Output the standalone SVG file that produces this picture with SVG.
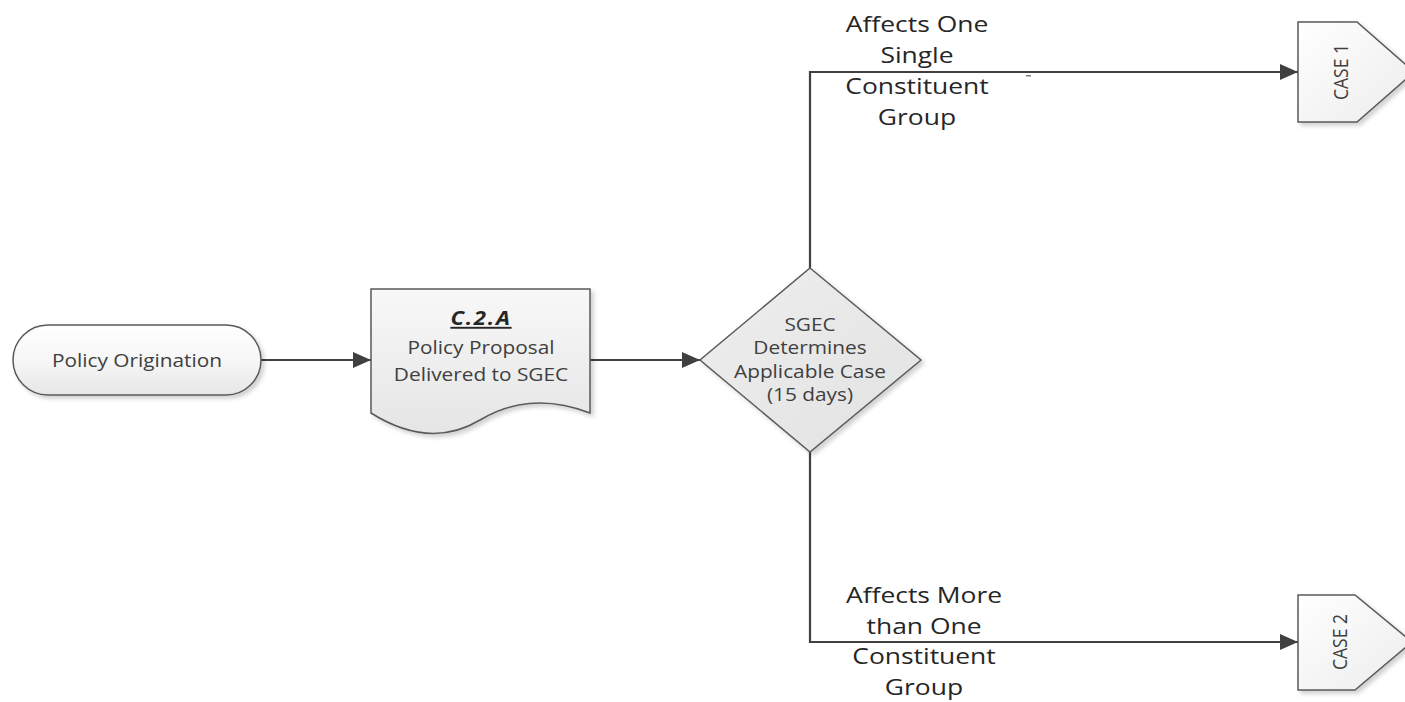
<svg xmlns="http://www.w3.org/2000/svg" width="1405" height="702" viewBox="0 0 1405 702">
  <style>
    .shape { stroke: #5a5a5a; stroke-width: 1.5; }
    .conn { fill: none; stroke: #404040; stroke-width: 2.2; }
    .body { font-family: "Open Sans", "Noto Sans", "Liberation Sans", sans-serif; font-size: 17.8px; fill: #404040; text-anchor: middle; }
    .title { font-family: "Open Sans", "Noto Sans", "Liberation Sans", sans-serif; font-size: 19px; font-weight: bold; font-style: italic; letter-spacing: 1.5px; fill: #262626; text-anchor: middle; text-decoration: underline; }
    .label { font-family: "Open Sans", "Noto Sans", "Liberation Sans", sans-serif; font-size: 22.6px; fill: #262626; text-anchor: middle; }
    .case { font-family: "Open Sans", "Noto Sans", "Liberation Sans", sans-serif; font-size: 17.5px; fill: #404040; text-anchor: middle; }
  </style>
  <defs>
    <linearGradient id="gTerm" x1="0" y1="0" x2="0" y2="1">
      <stop offset="0" stop-color="#ffffff"/>
      <stop offset="0.5" stop-color="#f7f7f7"/>
      <stop offset="1" stop-color="#e6e6e6"/>
    </linearGradient>
    <linearGradient id="gDoc" x1="0" y1="0" x2="0" y2="1">
      <stop offset="0" stop-color="#f8f8f8"/>
      <stop offset="1" stop-color="#e5e5e5"/>
    </linearGradient>
    <linearGradient id="gDia" x1="0" y1="0" x2="1" y2="1">
      <stop offset="0" stop-color="#eeeeee"/>
      <stop offset="1" stop-color="#e2e2e2"/>
    </linearGradient>
    <linearGradient id="gCase" x1="0" y1="0" x2="1" y2="1">
      <stop offset="0" stop-color="#ffffff"/>
      <stop offset="1" stop-color="#ececec"/>
    </linearGradient>
    <filter id="shadow" x="-10%" y="-10%" width="130%" height="130%">
      <feDropShadow dx="3" dy="3" stdDeviation="2" flood-color="#000000" flood-opacity="0.18"/>
    </filter>
    <marker id="arrow" markerUnits="userSpaceOnUse" markerWidth="18" markerHeight="16" refX="18" refY="8" orient="auto">
      <path d="M0,0 L18,8 L0,16 Z" fill="#404040"/>
    </marker>
  </defs>

  <g id="connectors">
    <path class="conn" d="M261,360 L371,360" marker-end="url(#arrow)"/>
    <path class="conn" d="M590,360 L700,360" marker-end="url(#arrow)"/>
    <path class="conn" d="M810,268 L810,72 L1298,72" marker-end="url(#arrow)"/>
    <path class="conn" d="M810,452 L810,642 L1298,642" marker-end="url(#arrow)"/>
    <rect x="1026" y="75" width="5" height="1.5" fill="#7a7a7a"/>
  </g>

  <g id="policy-origination">
    <rect class="shape" x="13" y="325" width="248" height="70" rx="35" ry="35" fill="url(#gTerm)" filter="url(#shadow)"/>
    <text class="body" transform="translate(137 0) scale(1.17 1)" x="0" y="367">Policy Origination</text>
  </g>

  <g id="c2a-document">
    <path class="shape" d="M371,289 L590,289 L590,413 Q530,390 480,420 Q430,450 371,413 Z" fill="url(#gDoc)" filter="url(#shadow)"/>
    <text class="title" transform="translate(481 0) scale(1.17 1)" x="0" y="325">C.2.A</text>
    <text class="body" transform="translate(481 0) scale(1.17 1)" x="0" y="354">Policy Proposal</text>
    <text class="body" transform="translate(481 0) scale(1.17 1)" x="0" y="381">Delivered to SGEC</text>
  </g>

  <g id="sgec-decision">
    <path class="shape" d="M810,268 L921,360 L810,452 L700,360 Z" fill="url(#gDia)" filter="url(#shadow)"/>
    <text class="body" transform="translate(810 0) scale(1.17 1)" x="0" y="331">SGEC</text>
    <text class="body" transform="translate(810 0) scale(1.17 1)" x="0" y="354">Determines</text>
    <text class="body" transform="translate(810 0) scale(1.17 1)" x="0" y="378">Applicable Case</text>
    <text class="body" transform="translate(810 0) scale(1.17 1)" x="0" y="401">(15 days)</text>
  </g>

  <g id="case-1">
    <path class="shape" d="M1298,22 L1357,22 L1414,72 L1357,122 L1298,122 Z" fill="url(#gCase)" filter="url(#shadow)"/>
    <text class="case" transform="translate(1341 72) scale(1.17 1) rotate(-90)" x="0" y="6.2">CASE 1</text>
  </g>

  <g id="case-2">
    <path class="shape" d="M1298,595 L1355,595 L1412,642 L1355,690 L1298,690 Z" fill="url(#gCase)" filter="url(#shadow)"/>
    <text class="case" transform="translate(1340 642) scale(1.17 1) rotate(-90)" x="0" y="6.2">CASE 2</text>
  </g>

  <g id="label-case-1">
    <text class="label" transform="translate(917 0) scale(1.17 1)" x="0" y="32">Affects One</text>
    <text class="label" transform="translate(917 0) scale(1.17 1)" x="0" y="63">Single</text>
    <text class="label" transform="translate(917 0) scale(1.17 1)" x="0" y="94">Constituent</text>
    <text class="label" transform="translate(917 0) scale(1.17 1)" x="0" y="125">Group</text>
  </g>

  <g id="label-case-2">
    <text class="label" transform="translate(924 0) scale(1.17 1)" x="0" y="603">Affects More</text>
    <text class="label" transform="translate(924 0) scale(1.17 1)" x="0" y="634">than One</text>
    <text class="label" transform="translate(924 0) scale(1.17 1)" x="0" y="664">Constituent</text>
    <text class="label" transform="translate(924 0) scale(1.17 1)" x="0" y="695">Group</text>
  </g>
</svg>
